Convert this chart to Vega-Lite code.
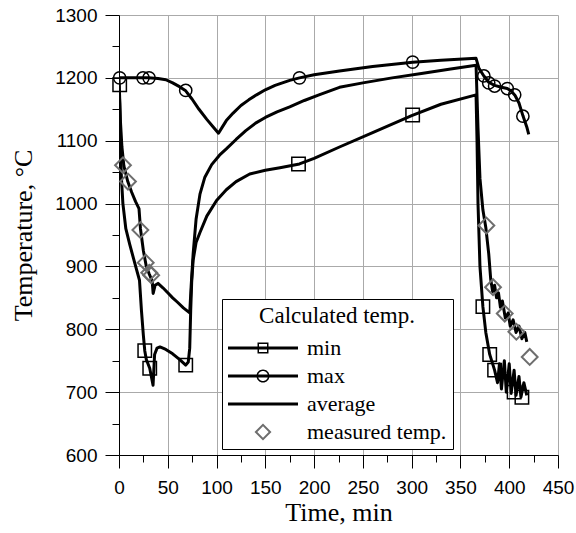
{
  "$schema": "https://vega.github.io/schema/vega-lite/v6.json",
  "width": 439,
  "height": 440,
  "autosize": {"type": "none"},
  "padding": {"left": 119, "top": 15, "right": 18, "bottom": 78},
  "background": "white",
  "config": {
    "view": {"stroke": null},
    "axis": {
      "domainColor": "black",
      "domainWidth": 1,
      "tickColor": "black",
      "tickWidth": 1,
      "grid": true,
      "gridWidth": 1,
      "labelFont": "Liberation Sans",
      "labelFontSize": 19,
      "labelColor": "black",
      "labelFlush": false,
      "labelOverlap": false,
      "titleFont": "Liberation Serif",
      "titleFontSize": 26,
      "titleFontWeight": "normal",
      "titleColor": "black"
    }
  },
  "datasets": {
    "lines": [
      {"s": "max", "t": 0, "T": 1200}, {"s": "max", "t": 10, "T": 1200}, {"s": "max", "t": 20, "T": 1200}, {"s": "max", "t": 30, "T": 1200}, {"s": "max", "t": 40, "T": 1199}, {"s": "max", "t": 48, "T": 1197}, {"s": "max", "t": 55, "T": 1192}, {"s": "max", "t": 62, "T": 1186}, {"s": "max", "t": 68, "T": 1180}, {"s": "max", "t": 75, "T": 1166}, {"s": "max", "t": 82, "T": 1150}, {"s": "max", "t": 90, "T": 1134}, {"s": "max", "t": 97, "T": 1121}, {"s": "max", "t": 102, "T": 1112}, {"s": "max", "t": 106, "T": 1122}, {"s": "max", "t": 110, "T": 1132}, {"s": "max", "t": 117, "T": 1144}, {"s": "max", "t": 125, "T": 1156}, {"s": "max", "t": 133, "T": 1165}, {"s": "max", "t": 141, "T": 1173}, {"s": "max", "t": 150, "T": 1181}, {"s": "max", "t": 160, "T": 1188}, {"s": "max", "t": 175, "T": 1196}, {"s": "max", "t": 185, "T": 1200}, {"s": "max", "t": 200, "T": 1205}, {"s": "max", "t": 226, "T": 1211}, {"s": "max", "t": 260, "T": 1218}, {"s": "max", "t": 301, "T": 1225}, {"s": "max", "t": 330, "T": 1228}, {"s": "max", "t": 366, "T": 1231}, {"s": "max", "t": 369, "T": 1215}, {"s": "max", "t": 374, "T": 1203}, {"s": "max", "t": 379, "T": 1193}, {"s": "max", "t": 385, "T": 1188}, {"s": "max", "t": 392, "T": 1185}, {"s": "max", "t": 398, "T": 1183}, {"s": "max", "t": 402, "T": 1179}, {"s": "max", "t": 406, "T": 1172}, {"s": "max", "t": 410, "T": 1160}, {"s": "max", "t": 414, "T": 1140}, {"s": "max", "t": 418, "T": 1122}, {"s": "max", "t": 420, "T": 1110},
      {"s": "average", "t": 0, "T": 1200}, {"s": "average", "t": 1.5, "T": 1130}, {"s": "average", "t": 3, "T": 1090}, {"s": "average", "t": 5, "T": 1060}, {"s": "average", "t": 9, "T": 1035}, {"s": "average", "t": 13, "T": 1018}, {"s": "average", "t": 17, "T": 1003}, {"s": "average", "t": 20.5, "T": 992}, {"s": "average", "t": 22, "T": 960}, {"s": "average", "t": 25, "T": 925}, {"s": "average", "t": 28, "T": 900}, {"s": "average", "t": 31, "T": 888}, {"s": "average", "t": 34, "T": 877}, {"s": "average", "t": 35, "T": 857}, {"s": "average", "t": 37, "T": 870}, {"s": "average", "t": 40, "T": 873}, {"s": "average", "t": 45, "T": 866}, {"s": "average", "t": 50, "T": 858}, {"s": "average", "t": 55, "T": 850}, {"s": "average", "t": 60, "T": 843}, {"s": "average", "t": 66, "T": 834}, {"s": "average", "t": 72.5, "T": 826}, {"s": "average", "t": 74, "T": 870}, {"s": "average", "t": 76, "T": 920}, {"s": "average", "t": 79, "T": 975}, {"s": "average", "t": 83, "T": 1015}, {"s": "average", "t": 88, "T": 1042}, {"s": "average", "t": 95, "T": 1062}, {"s": "average", "t": 103, "T": 1077}, {"s": "average", "t": 110, "T": 1087}, {"s": "average", "t": 120, "T": 1102}, {"s": "average", "t": 130, "T": 1116}, {"s": "average", "t": 140, "T": 1128}, {"s": "average", "t": 150, "T": 1137}, {"s": "average", "t": 162, "T": 1146}, {"s": "average", "t": 175, "T": 1154}, {"s": "average", "t": 190, "T": 1164}, {"s": "average", "t": 205, "T": 1173}, {"s": "average", "t": 226, "T": 1185}, {"s": "average", "t": 250, "T": 1192}, {"s": "average", "t": 280, "T": 1200}, {"s": "average", "t": 310, "T": 1207}, {"s": "average", "t": 340, "T": 1214}, {"s": "average", "t": 366, "T": 1220}, {"s": "average", "t": 368, "T": 1120}, {"s": "average", "t": 370, "T": 1040}, {"s": "average", "t": 373, "T": 990}, {"s": "average", "t": 376, "T": 962}, {"s": "average", "t": 379, "T": 920}, {"s": "average", "t": 381, "T": 880}, {"s": "average", "t": 383, "T": 860}, {"s": "average", "t": 385, "T": 870}, {"s": "average", "t": 387, "T": 850}, {"s": "average", "t": 389, "T": 858}, {"s": "average", "t": 391, "T": 835}, {"s": "average", "t": 393, "T": 845}, {"s": "average", "t": 396, "T": 818}, {"s": "average", "t": 399, "T": 826}, {"s": "average", "t": 401, "T": 805}, {"s": "average", "t": 404, "T": 815}, {"s": "average", "t": 407, "T": 795}, {"s": "average", "t": 410, "T": 805}, {"s": "average", "t": 413, "T": 785}, {"s": "average", "t": 416, "T": 795}, {"s": "average", "t": 418, "T": 780},
      {"s": "min", "t": 0, "T": 1190}, {"s": "min", "t": 0.7, "T": 1160}, {"s": "min", "t": 1.5, "T": 1100}, {"s": "min", "t": 2.5, "T": 1040}, {"s": "min", "t": 4, "T": 1000}, {"s": "min", "t": 7, "T": 960}, {"s": "min", "t": 11, "T": 935}, {"s": "min", "t": 15, "T": 912}, {"s": "min", "t": 18, "T": 895}, {"s": "min", "t": 21, "T": 878}, {"s": "min", "t": 23, "T": 830}, {"s": "min", "t": 25, "T": 790}, {"s": "min", "t": 26.4, "T": 766}, {"s": "min", "t": 28, "T": 752}, {"s": "min", "t": 31.5, "T": 738}, {"s": "min", "t": 34.9, "T": 711}, {"s": "min", "t": 36.5, "T": 760}, {"s": "min", "t": 39, "T": 770}, {"s": "min", "t": 42, "T": 772}, {"s": "min", "t": 48, "T": 768}, {"s": "min", "t": 55, "T": 761}, {"s": "min", "t": 62, "T": 752}, {"s": "min", "t": 68.4, "T": 743}, {"s": "min", "t": 71, "T": 748}, {"s": "min", "t": 72.5, "T": 770}, {"s": "min", "t": 73.5, "T": 830}, {"s": "min", "t": 74.5, "T": 875}, {"s": "min", "t": 76, "T": 910}, {"s": "min", "t": 79, "T": 938}, {"s": "min", "t": 83, "T": 954}, {"s": "min", "t": 90, "T": 980}, {"s": "min", "t": 100, "T": 1005}, {"s": "min", "t": 110, "T": 1022}, {"s": "min", "t": 120, "T": 1035}, {"s": "min", "t": 134, "T": 1047}, {"s": "min", "t": 150, "T": 1053}, {"s": "min", "t": 165, "T": 1057}, {"s": "min", "t": 185, "T": 1063}, {"s": "min", "t": 200, "T": 1072}, {"s": "min", "t": 226, "T": 1090}, {"s": "min", "t": 260, "T": 1113}, {"s": "min", "t": 300, "T": 1140}, {"s": "min", "t": 330, "T": 1158}, {"s": "min", "t": 366, "T": 1173}, {"s": "min", "t": 367, "T": 1100}, {"s": "min", "t": 368, "T": 1000}, {"s": "min", "t": 370, "T": 900}, {"s": "min", "t": 373, "T": 836}, {"s": "min", "t": 376, "T": 795}, {"s": "min", "t": 380, "T": 760}, {"s": "min", "t": 385, "T": 735}, {"s": "min", "t": 388, "T": 715}, {"s": "min", "t": 390, "T": 745}, {"s": "min", "t": 392, "T": 705}, {"s": "min", "t": 395, "T": 750}, {"s": "min", "t": 397, "T": 700}, {"s": "min", "t": 400, "T": 745}, {"s": "min", "t": 402, "T": 698}, {"s": "min", "t": 405, "T": 735}, {"s": "min", "t": 407, "T": 695}, {"s": "min", "t": 410, "T": 725}, {"s": "min", "t": 412, "T": 692}, {"s": "min", "t": 415, "T": 715}, {"s": "min", "t": 418, "T": 695}
    ],
    "markers": [
      {"s": "min", "t": 0.7, "T": 1189}, {"s": "min", "t": 26.4, "T": 766}, {"s": "min", "t": 31.5, "T": 738}, {"s": "min", "t": 68.4, "T": 743}, {"s": "min", "t": 184, "T": 1063}, {"s": "min", "t": 301, "T": 1141}, {"s": "min", "t": 373, "T": 836}, {"s": "min", "t": 380, "T": 760}, {"s": "min", "t": 385, "T": 735}, {"s": "min", "t": 405, "T": 700}, {"s": "min", "t": 413, "T": 692},
      {"s": "max", "t": 0.7, "T": 1200}, {"s": "max", "t": 24.6, "T": 1200}, {"s": "max", "t": 30.8, "T": 1200}, {"s": "max", "t": 68.4, "T": 1180}, {"s": "max", "t": 185, "T": 1200}, {"s": "max", "t": 301, "T": 1225}, {"s": "max", "t": 374, "T": 1203}, {"s": "max", "t": 379, "T": 1192}, {"s": "max", "t": 385, "T": 1187}, {"s": "max", "t": 398, "T": 1183}, {"s": "max", "t": 405.6, "T": 1173}, {"s": "max", "t": 414, "T": 1139},
      {"s": "measured temp.", "t": 4.1, "T": 1061}, {"s": "measured temp.", "t": 9.2, "T": 1035}, {"s": "measured temp.", "t": 21.9, "T": 958}, {"s": "measured temp.", "t": 27.4, "T": 906}, {"s": "measured temp.", "t": 31, "T": 890}, {"s": "measured temp.", "t": 33, "T": 886}, {"s": "measured temp.", "t": 376.6, "T": 965}, {"s": "measured temp.", "t": 383.4, "T": 867}, {"s": "measured temp.", "t": 395.4, "T": 825}, {"s": "measured temp.", "t": 407.3, "T": 796}, {"s": "measured temp.", "t": 421, "T": 756}
    ],
    "legendKeys": [
      {"s": "min", "t": -100, "T": 500}, {"s": "max", "t": -100, "T": 500}, {"s": "average", "t": -100, "T": 500}, {"s": "measured temp.", "t": -100, "T": 500}
    ]
  },
  "encoding": {
    "x": {
      "field": "t", "type": "quantitative",
      "scale": {"domain": [0, 450], "nice": false, "zero": false},
      "axis": {
        "title": "Time, min",
        "values": [0, 25, 50, 75, 100, 125, 150, 175, 200, 225, 250, 275, 300, 325, 350, 375, 400, 425, 450],
        "format": "d",
        "labelExpr": "datum.value % 50 === 0 ? datum.label : ''",
        "tickSize": {"condition": {"test": "datum.value % 50 === 0", "value": 13}, "value": 7},
        "gridColor": {"condition": {"test": "datum.value % 50 === 0", "value": "#aaaaaa"}, "value": "rgba(0,0,0,0)"},
        "labelPadding": 10,
        "titlePadding": 2
      }
    },
    "y": {
      "field": "T", "type": "quantitative",
      "scale": {"domain": [600, 1300], "nice": false, "zero": false},
      "axis": {
        "title": "Temperature, °C",
        "values": [600, 650, 700, 750, 800, 850, 900, 950, 1000, 1050, 1100, 1150, 1200, 1250, 1300],
        "format": "d",
        "labelExpr": "datum.value % 100 === 0 ? datum.label : ''",
        "tickSize": {"condition": {"test": "datum.value % 100 === 0", "value": 14}, "value": 7},
        "gridColor": {"condition": {"test": "datum.value % 100 === 0", "value": "#aaaaaa"}, "value": "rgba(0,0,0,0)"},
        "labelPadding": 8,
        "titlePadding": 18
      }
    }
  },
  "layer": [
    {
      "data": {"name": "lines"},
      "mark": {"type": "line", "stroke": "black", "strokeWidth": 3, "clip": true, "strokeJoin": "round"},
      "encoding": {"detail": {"field": "s"}}
    },
    {
      "data": {"name": "markers"},
      "transform": [{"filter": "datum.s === 'min'"}],
      "mark": {"type": "point", "shape": "square", "size": 180, "filled": false, "stroke": "black", "strokeWidth": 1.5, "opacity": 1}
    },
    {
      "data": {"name": "markers"},
      "transform": [{"filter": "datum.s === 'max'"}],
      "mark": {"type": "point", "shape": "circle", "size": 150, "filled": false, "stroke": "black", "strokeWidth": 1.5, "opacity": 1}
    },
    {
      "data": {"name": "markers"},
      "transform": [{"filter": "datum.s === 'measured temp.'"}],
      "mark": {"type": "point", "shape": "diamond", "size": 250, "filled": false, "stroke": "#6e6e6e", "strokeWidth": 2, "opacity": 1}
    },
    {
      "data": {"name": "legendKeys"},
      "mark": {"type": "point", "filled": true, "clip": true, "size": 4900, "opacity": 1},
      "encoding": {
        "shape": {
          "field": "s", "type": "nominal",
          "scale": {
            "domain": ["min", "max", "average", "measured temp."],
            "range": [
              "M-1,-0.043H1V0.043H-1Z M-0.157,-0.157H0.157V0.157H-0.157Z M-0.114,-0.114V0.114H0.114V-0.114Z",
              "M-1,-0.043H1V0.043H-1Z M-0.186,0A0.186,0.186 0 1,1 0.186,0A0.186,0.186 0 1,1 -0.186,0Z M-0.143,0A0.143,0.143 0 1,0 0.143,0A0.143,0.143 0 1,0 -0.143,0Z",
              "M-1,-0.043H1V0.043H-1Z",
              "M0,-0.243L0.243,0L0,0.243L-0.243,0Z M0,-0.162L-0.162,0L0,0.162L0.162,0Z"
            ]
          },
          "legend": {
            "orient": "none",
            "legendX": 103,
            "legendY": 284,
            "title": "Calculated temp.",
            "titleFont": "Liberation Serif",
            "titleFontSize": 23,
            "titleFontWeight": "normal",
            "titleColor": "black",
            "titleAnchor": "middle",
            "titlePadding": 9,
            "labelFont": "Liberation Serif",
            "labelFontSize": 22,
            "labelColor": "black",
            "labelOffset": 9,
            "symbolSize": 4900,
            "symbolStrokeWidth": 0,
            "symbolOpacity": 1,
            "clipHeight": 22,
            "rowPadding": 6,
            "strokeColor": "black",
            "fillColor": "white",
            "padding": 6
          }
        },
        "color": {
          "field": "s", "type": "nominal",
          "scale": {
            "domain": ["min", "max", "average", "measured temp."],
            "range": ["black", "black", "black", "#6e6e6e"]
          },
          "legend": {
            "orient": "none",
            "legendX": 103,
            "legendY": 284,
            "title": "Calculated temp."
          }
        }
      }
    }
  ]
}
